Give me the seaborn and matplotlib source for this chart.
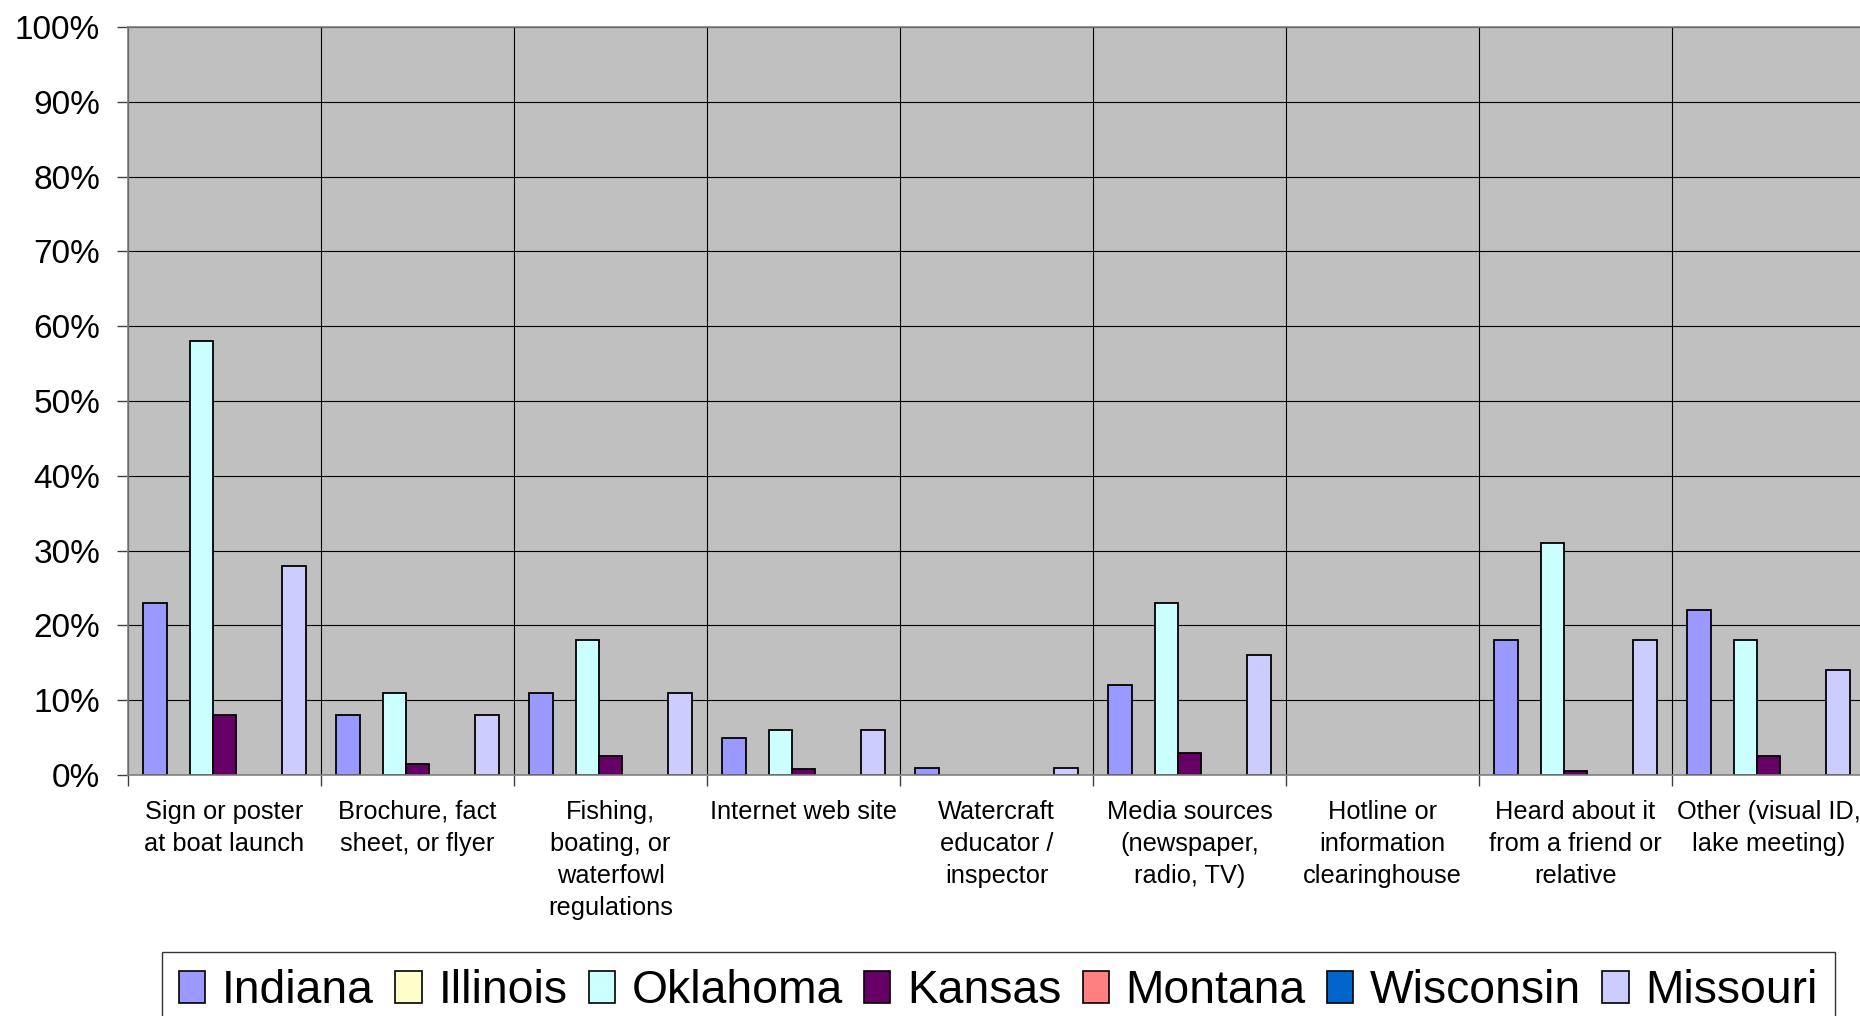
import numpy as np
import pandas as pd
import matplotlib.pyplot as plt
from matplotlib.patches import Patch
import seaborn as sns

# Categorias y valores (porcentaje de respuestas)
categories = [
    'Sign or poster\nat boat launch',
    'Brochure, fact\nsheet, or flyer',
    'Fishing,\nboating, or\nwaterfowl\nregulations',
    'Internet web site',
    'Watercraft\neducator /\ninspector',
    'Media sources\n(newspaper,\nradio, TV)',
    'Hotline or\ninformation\nclearinghouse',
    'Heard about it\nfrom a friend or\nrelative',
    'Other (visual ID,\nlake meeting)',
]
states = ['Indiana', 'Illinois', 'Oklahoma', 'Kansas', 'Montana', 'Wisconsin', 'Missouri']

indiana = [23, 8, 11, 5, 1, 12, 0, 18, 22]
illinois = [0, 0, 0, 0, 0, 0, 0, 0, 0]
oklahoma = [58, 11, 18, 6, 0, 23, 0, 31, 18]
kansas = [8, 1.5, 2.5, 0.8, 0, 3, 0, 0.5, 2.6]
montana = [0, 0, 0, 0, 0, 0, 0, 0, 0]
wisconsin = [0, 0, 0, 0, 0, 0, 0, 0, 0]
missouri = [28, 8, 11, 6, 1, 16, 0, 18, 14]

state_colors = {
    'Indiana': '#9999FF',
    'Illinois': '#FFFFCC',
    'Oklahoma': '#CCFFFF',
    'Kansas': '#660066',
    'Montana': '#FF8080',
    'Wisconsin': '#0066CC',
    'Missouri': '#CCCCFF',
}

wide = pd.DataFrame({
    'Category': categories,
    'Indiana': indiana,
    'Illinois': illinois,
    'Oklahoma': oklahoma,
    'Kansas': kansas,
    'Montana': montana,
    'Wisconsin': wisconsin,
    'Missouri': missouri,
})
df = wide.melt(id_vars='Category', var_name='State', value_name='Pct')

sns.set_style('white')
plt.rcParams['font.family'] = ['Liberation Sans', 'DejaVu Sans']
plt.rcParams['text.color'] = 'black'
plt.rcParams['xtick.color'] = 'black'
plt.rcParams['ytick.color'] = 'black'

fig = plt.figure(figsize=(18.6, 10.16), dpi=100)
ax = fig.add_axes([128 / 1860, 1 - 775 / 1016, (1865 - 128) / 1860, (775 - 27) / 1016])
ax.set_facecolor('#C0C0C0')

sns.barplot(data=df, x='Category', y='Pct', hue='State', order=categories,
            hue_order=states, palette=state_colors, saturation=1, width=0.84,
            edgecolor='black', linewidth=1.3, errorbar=None, legend=False, ax=ax)

# Las barras con valor 0 no se ven en el original
for p in ax.patches:
    if p.get_height() == 0:
        p.set_visible(False)

ax.set_xlim(-0.5, len(categories) - 0.5)
ax.set_ylim(0, 100)
ax.set_yticks(range(0, 101, 10))
ax.set_yticklabels([f'{v}%' for v in range(0, 101, 10)])
ax.set_xticks(np.arange(-0.5, len(categories), 1), minor=True)
ax.set_xlabel('')
ax.set_ylabel('')

ax.tick_params(axis='y', which='major', left=True, length=8, width=1,
               color='#404040', labelcolor='black', pad=12, labelsize=24)
ax.tick_params(axis='x', which='major', length=0, pad=18, labelsize=18.3, labelcolor='black')
ax.tick_params(axis='x', which='minor', bottom=True, length=8, width=1, color='#404040')
for lbl in ax.get_xticklabels():
    lbl.set_linespacing(1.42)

ax.grid(axis='y', which='major', color='black', linewidth=0.8)
ax.grid(axis='x', which='minor', color='black', linewidth=0.8)
ax.set_axisbelow(True)
for s in ax.spines.values():
    s.set_color('#808080')
    s.set_linewidth(1.2)

handles = [Patch(facecolor=state_colors[s], edgecolor='black', linewidth=1.2, label=s)
           for s in states]
leg = fig.legend(handles=handles, loc='upper left', bbox_to_anchor=(162 / 1860, 1 - 952 / 1016),
                 ncol=7, fontsize=33.3, frameon=True, fancybox=False, edgecolor='black',
                 handlelength=0.57, handleheight=0.68, handletextpad=0.36,
                 columnspacing=0.46, borderpad=0.37, borderaxespad=0, labelcolor='black')
leg.get_frame().set_linewidth(1.0)

fig.savefig('out.png', dpi=100)
